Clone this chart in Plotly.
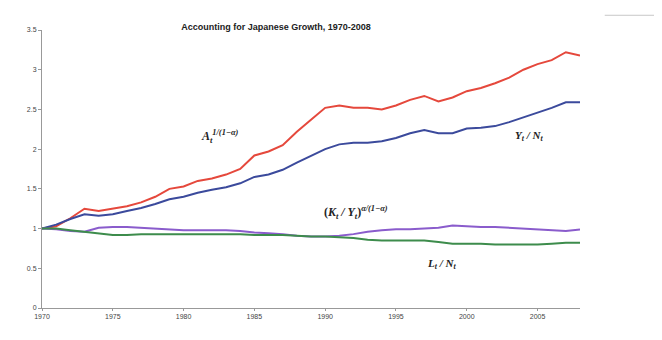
import plotly.graph_objects as go

years = list(range(1970, 2009))

tfp = [1.00, 1.03, 1.13, 1.25, 1.22, 1.25, 1.28, 1.33, 1.40, 1.50,
       1.53, 1.60, 1.63, 1.68, 1.75, 1.92, 1.97, 2.05, 2.22, 2.37,
       2.52, 2.55, 2.52, 2.52, 2.50, 2.55, 2.62, 2.67, 2.60, 2.65,
       2.73, 2.77, 2.83, 2.90, 3.00, 3.07, 3.12, 3.22, 3.18]

y_per_n = [1.00, 1.05, 1.12, 1.18, 1.16, 1.18, 1.22, 1.26, 1.31, 1.37,
           1.40, 1.45, 1.49, 1.52, 1.57, 1.65, 1.68, 1.74, 1.83, 1.91,
           2.00, 2.06, 2.08, 2.08, 2.10, 2.14, 2.20, 2.24, 2.20, 2.20,
           2.26, 2.27, 2.29, 2.34, 2.40, 2.46, 2.52, 2.59, 2.59]

k_per_y = [1.00, 0.99, 0.97, 0.96, 1.01, 1.02, 1.02, 1.01, 1.00, 0.99,
           0.98, 0.98, 0.98, 0.98, 0.97, 0.95, 0.94, 0.93, 0.91, 0.90,
           0.90, 0.91, 0.93, 0.96, 0.98, 0.99, 0.99, 1.00, 1.01, 1.04,
           1.03, 1.02, 1.02, 1.01, 1.00, 0.99, 0.98, 0.97, 0.99]

l_per_n = [1.00, 1.00, 0.98, 0.96, 0.94, 0.92, 0.92, 0.93, 0.93, 0.93,
           0.93, 0.93, 0.93, 0.93, 0.93, 0.92, 0.92, 0.92, 0.91, 0.90,
           0.90, 0.89, 0.88, 0.86, 0.85, 0.85, 0.85, 0.85, 0.83, 0.81,
           0.81, 0.81, 0.80, 0.80, 0.80, 0.80, 0.81, 0.82, 0.82]

x_ticks = [1970, 1975, 1980, 1985, 1990, 1995, 2000, 2005]
y_ticks = [0, 0.5, 1, 1.5, 2, 2.5, 3, 3.5]
y_tick_labels = ["0", "0.5", "1", "1.5", "2", "2.5", "3", "3.5"]

fig = go.Figure()
series = [
    (tfp, "#e5483c"),
    (y_per_n, "#3b4a9c"),
    (k_per_y, "#8a5ccc"),
    (l_per_n, "#3d8c4c"),
]
for vals, col in series:
    fig.add_trace(go.Scatter(x=years, y=vals, mode="lines",
                             line=dict(color=col, width=2), showlegend=False))

lab_font = dict(family="Liberation Serif", size=11, color="#222")
fig.add_annotation(x=1982.6, y=2.16, text="<b><i>A<sub>t</sub><sup>1/(1−α)</sup></i></b>",
                   showarrow=False, font=dict(family="Liberation Serif", size=12, color="#222"),
                   xref="x", yref="y")
fig.add_annotation(x=2004.4, y=2.16, text="<b><i>Y<sub>t</sub> / N<sub>t</sub></i></b>",
                   showarrow=False, font=lab_font, xref="x", yref="y")
fig.add_annotation(x=1992.2, y=1.20, text="<b>(<i>K<sub>t</sub> / Y<sub>t</sub></i>)<sup><i>α/(1−α)</i></sup></b>",
                   showarrow=False, font=dict(family="Liberation Serif", size=12, color="#222"),
                   xref="x", yref="y")
fig.add_annotation(x=1998.2, y=0.55, text="<b><i>L<sub>t</sub> / N<sub>t</sub></i></b>",
                   showarrow=False, font=lab_font, xref="x", yref="y")

fig.add_shape(type="line", xref="paper", yref="paper", x0=1.046, x1=1.138, y0=1.053, y1=1.053,
              line=dict(color="#c8c8c8", width=1))

fig.update_layout(
    width=646, height=324,
    margin=dict(l=34, r=74, t=22, b=20),
    paper_bgcolor="white", plot_bgcolor="white",
    title=dict(text="<b>Accounting for Japanese Growth, 1970-2008</b>",
               x=0.415, xanchor="center", xref="container",
               y=0.941, yanchor="middle", yref="container",
               font=dict(family="Liberation Sans", size=9, color="#222")),
)
fig.update_xaxes(range=[1970, 2008], tickvals=x_ticks, ticktext=[str(v) for v in x_ticks],
                 showline=True, linecolor="#999", linewidth=1, ticks="outside", ticklen=2,
                 tickcolor="#999", showgrid=False, zeroline=False,
                 tickfont=dict(family="Liberation Sans", size=7, color="#444"))
fig.update_yaxes(range=[0, 3.5], tickvals=y_ticks, ticktext=y_tick_labels,
                 showline=True, linecolor="#999", linewidth=1, ticks="outside", ticklen=3,
                 tickcolor="#999", showgrid=False, zeroline=False,
                 tickfont=dict(family="Liberation Sans", size=7, color="#444"))

fig.write_html("out.html")
